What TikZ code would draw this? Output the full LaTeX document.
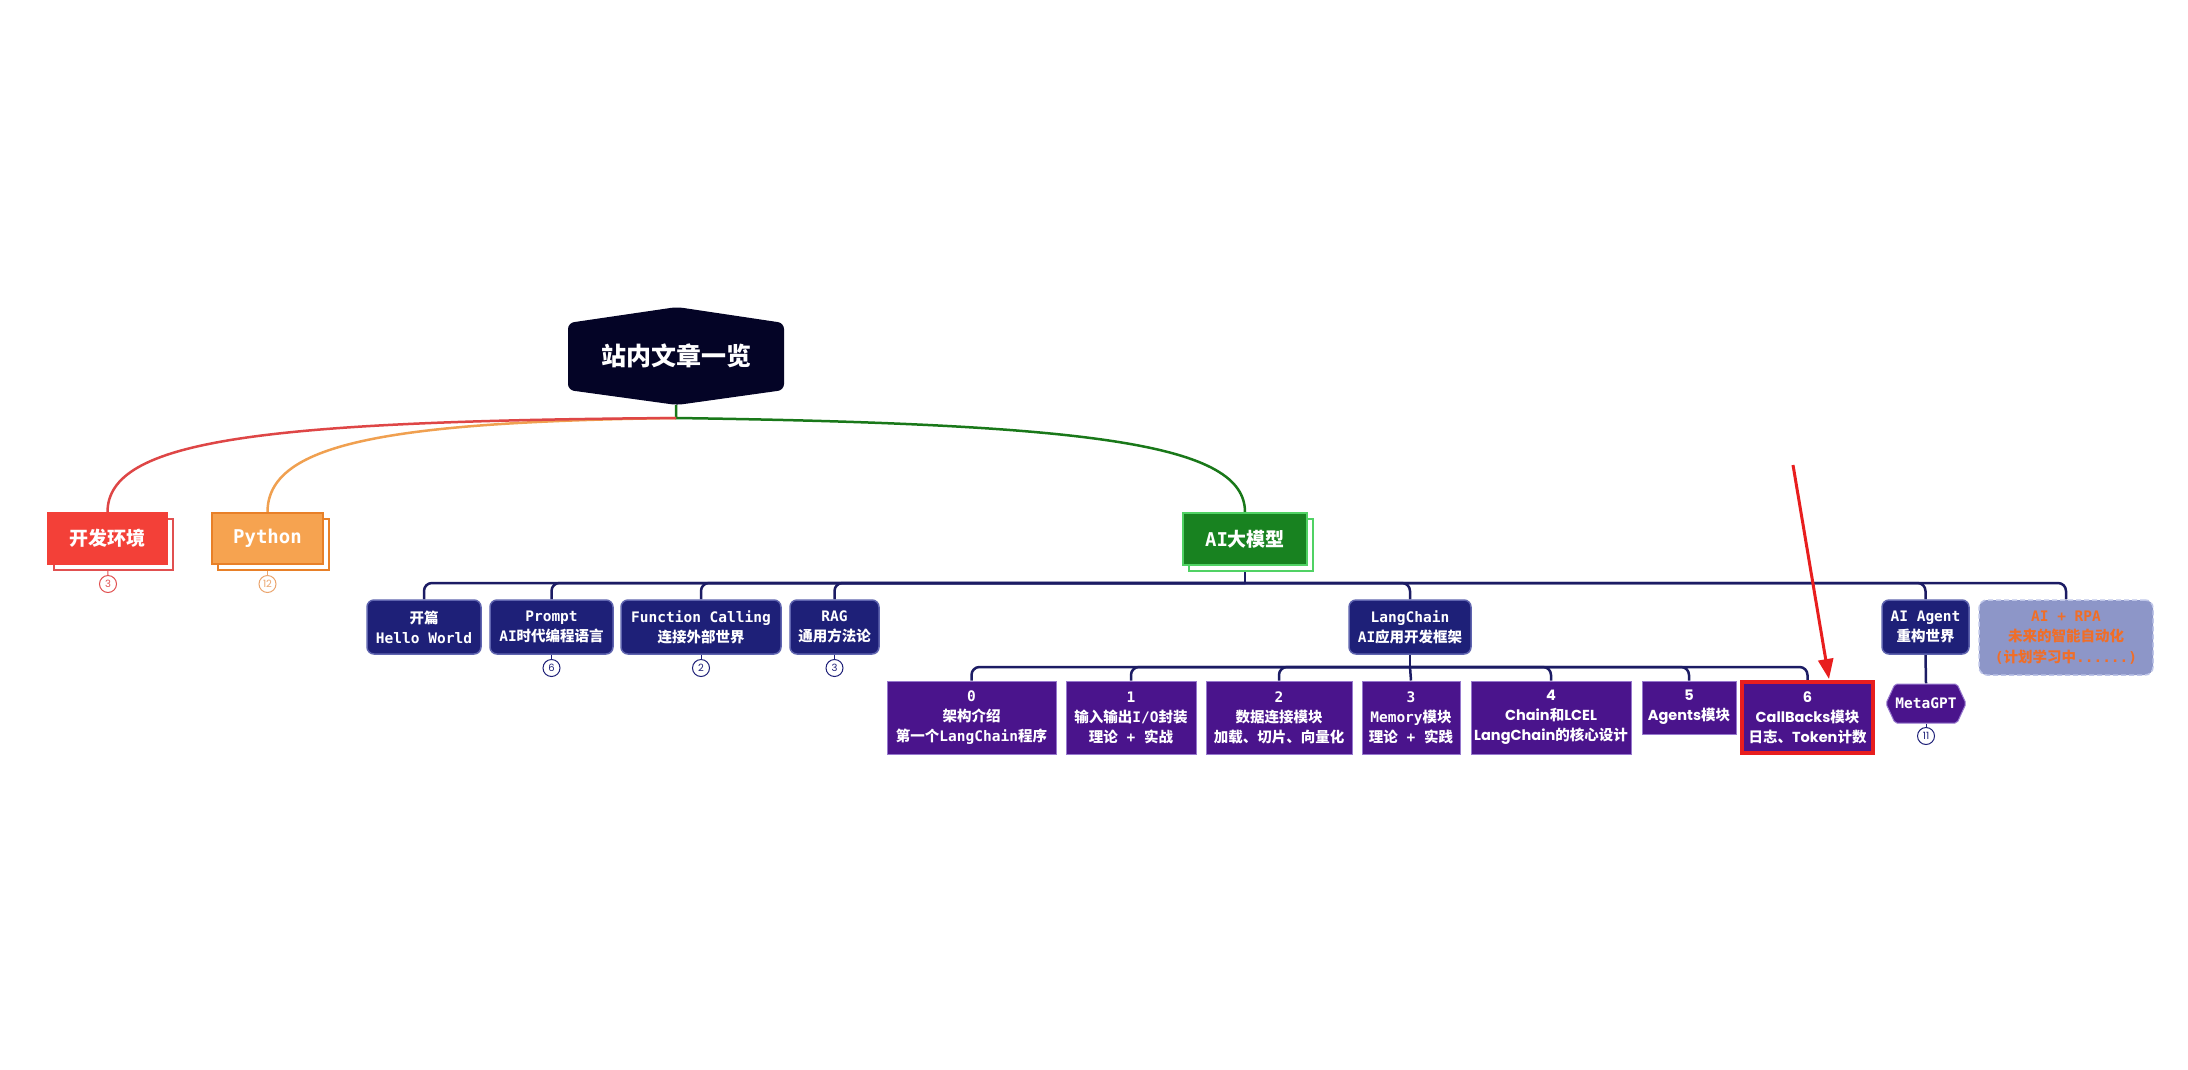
\documentclass[tikz,border=0pt]{standalone}
\usepackage{fontspec}
\setmainfont{DejaVu Sans Mono}
\newfontfamily\cjkf{Noto Sans CJK SC}
\newfontfamily\popf{Poppins}
\usetikzlibrary{arrows.meta,backgrounds,shadows,calc}
\newcommand\C[1]{{\cjkf\bfseries #1}}
\definecolor{rootc}{RGB}{4,4,38}
\definecolor{navy}{RGB}{30,32,120}
\definecolor{navyb}{RGB}{95,100,175}
\definecolor{purp}{RGB}{74,20,140}
\definecolor{purpb}{RGB}{150,120,205}
\definecolor{busc}{RGB}{28,28,100}
\definecolor{devred}{RGB}{243,64,56}
\definecolor{devc}{RGB}{225,80,80}
\definecolor{pyor}{RGB}{246,163,80}
\definecolor{pyorb}{RGB}{232,128,40}
\definecolor{pyc}{RGB}{235,165,110}
\definecolor{aig}{RGB}{24,130,32}
\definecolor{aigb}{RGB}{80,210,100}
\definecolor{rpaf}{RGB}{141,150,200}
\definecolor{rpab}{RGB}{190,197,232}
\definecolor{rpat}{RGB}{240,110,40}
\definecolor{arrowred}{RGB}{232,30,30}
\definecolor{greenline}{RGB}{25,120,25}
\definecolor{redline}{RGB}{222,70,70}
\definecolor{orline}{RGB}{240,160,80}
\tikzset{
 every node/.style={inner sep=0pt, align=center, text=white},
 l1/.style n args={3}{fill=#1, draw=#2, line width=1.5pt, minimum height=51pt,
   font=\bfseries\fontsize{19}{22}\selectfont,
   copy shadow={shadow xshift=6pt, shadow yshift=-6pt, opacity=1, fill=white, draw=#3, line width=1.5pt}},
 lvl2/.style={fill=navy, draw=navyb, line width=1.5pt, rounded corners=7pt, minimum height=54pt,
   font=\bfseries\fontsize{14.5}{20}\selectfont},
 lcbox/.style={fill=purp, draw=purpb, line width=1pt, minimum height=73pt,
   font=\bfseries\fontsize{14.5}{20}\selectfont},
 popbox/.style={lcbox, font=\popf\bfseries\fontsize{14.5}{20}\selectfont},
 rpabox/.style={fill=rpaf, draw=rpab, line width=1.5pt, dash pattern=on 5pt off 3pt, rounded corners=8pt,
   text=rpat, font=\bfseries\fontsize{14.5}{20.5}\selectfont},
 cnt/.style={circle, draw=#1, text=#1, fill=white, line width=1pt, minimum size=17pt,
   font=\popf\fontsize{10}{10}\selectfont},
 bus/.style={draw=busc, line width=2.5pt, rounded corners=8pt},
 tick/.style={draw=#1, line width=1pt},
}
\begin{document}
\begin{tikzpicture}[x=1pt,y=-1pt]
\useasboundingbox (0,0) rectangle (2188,1069);

% ---------- nodes ----------
\node[font=\cjkf\bfseries\fontsize{25}{25}\selectfont, minimum width=216pt, minimum height=98pt] (root) at (676,356) {站内文章一览};

\node[l1={devred}{devred}{devc}, minimum width=119pt] (dev) at (107.5,538.5) {\C{开发环境}};
\node[l1={pyor}{pyorb}{pyorb}, minimum width=111pt] (py) at (267.5,538.5) {Python};
\node[l1={aig}{aigb}{aigb}, minimum width=124pt, minimum height=52pt] (ai) at (1245,539) {AI\C{大模型}};

\node[cnt=devc] (devn) at (108,584) {3};
\node[cnt=pyc] (pyn) at (267.5,584) {12};

\node[lvl2, minimum width=114pt] (kp) at (424,627) {\C{开篇}\\Hello World};
\node[lvl2, minimum width=123pt] (prompt) at (551.5,627) {Prompt\\AI\C{时代编程语言}};
\node[lvl2, minimum width=160pt] (fc) at (701,627) {Function Calling\\\C{连接外部世界}};
\node[lvl2, minimum width=89pt] (rag) at (834.5,627) {RAG\\\C{通用方法论}};
\node[lvl2, minimum width=122pt] (lc) at (1410,627) {LangChain\\AI\C{应用开发框架}};
\node[lvl2, minimum width=87pt] (agent) at (1925.5,627) {AI Agent\\\C{重构世界}};
\node[rpabox, minimum width=174pt, minimum height=75pt] (rpa) at (2066,637.5) {AI + RPA\\\C{未来的智能自动化}\\(\C{计划学习中}......)};

\node[cnt=navy] (promptn) at (551.5,668) {6};
\node[cnt=navy] (fcn) at (701,668) {2};
\node[cnt=navy] (ragn) at (834.5,668) {3};

\node[lcbox, minimum width=169pt] (c0) at (971.5,717.5) {0\\\C{架构介绍}\\\C{第一个}LangChain\C{程序}};
\node[lcbox, minimum width=130pt] (c1) at (1131,717.5) {1\\\C{输入输出}I/O\C{封装}\\\C{理论} + \C{实战}};
\node[lcbox, minimum width=146pt] (c2) at (1279,717.5) {2\\\C{数据连接模块}\\\C{加载、切片、向量化}};
\node[lcbox, minimum width=98pt] (c3) at (1411,717.5) {3\\Memory\C{模块}\\\C{理论} + \C{实践}};
\node[popbox, minimum width=160pt] (c4) at (1551,717.5) {4\\Chain\C{和}LCEL\\LangChain\C{的核心设计}};
\node[popbox, minimum width=94pt, minimum height=53pt] (c5) at (1689,707.5) {5\\Agents\C{模块}};
\node[popbox, minimum width=131pt, minimum height=71pt, draw=arrowred, line width=4pt] (c6) at (1807.5,717.5) {6\\CallBacks\C{模块}\\\C{日志、}Token\C{计数}};

\node[font=\bfseries\fontsize{14.5}{16}\selectfont, minimum width=80pt, minimum height=40pt] (meta) at (1926,703.5) {MetaGPT};
\node[cnt=navy] (metan) at (1926,736) {11};

% ---------- coordinates ----------
\coordinate (rb) at (676,418);
\coordinate (aib) at (1245,583);
\coordinate (lcb) at (1410,667);
\coordinate (arrtail) at (1793,465);
\coordinate (arrtip) at (1829,679);

% ---------- background: shapes and connectors ----------
\begin{scope}[on background layer]
\fill[white] (0,0) rectangle (2188,1069);
\fill[rootc, rounded corners=6pt] (568,323) -- (677,307) -- (784,323) -- (784,390) -- (677,405) -- (568,390) -- cycle;
\filldraw[fill=purp, draw=purpb, line width=1pt, rounded corners=2pt] (1886,703.5) -- (1895,684) -- (1957,684) -- (1966,703.5) -- (1957,723) -- (1895,723) -- cycle;

\draw[greenline, line width=2.5pt] (root.south) -- (rb) .. controls (1100,424) and (1245,445) .. (ai.north);
\draw[orline, line width=2.5pt] (rb) .. controls (380,422) and (267.5,445) .. (py.north);
\draw[redline, line width=2.5pt] (rb) .. controls (260,421) and (107.5,440) .. (dev.north);

\draw[tick=devc] (dev.south) -- (devn.north);
\draw[tick=pyc] (py.south) -- (pyn.north);
\draw[tick=navy] (prompt.south) -- (promptn.north);
\draw[tick=navy] (fc.south) -- (fcn.north);
\draw[tick=navy] (rag.south) -- (ragn.north);
\draw[tick=navy] (meta.south) -- (metan.north);

\draw[bus] (ai.south) -- (aib);
\draw[bus] (aib) -| (kp.north);
\draw[bus] (aib) -| (prompt.north);
\draw[bus] (aib) -| (fc.north);
\draw[bus] (aib) -| (rag.north);
\draw[bus] (aib) -| (lc.north);
\draw[bus] (aib) -| (agent.north);
\draw[bus] (aib) -| (rpa.north);

\draw[bus] (lc.south) -- (lcb);
\draw[bus] (lcb) -| (c0.north);
\draw[bus] (lcb) -| (c1.north);
\draw[bus] (lcb) -| (c2.north);
\draw[bus] (lcb) -- (c3.north);
\draw[bus] (lcb) -| (c4.north);
\draw[bus] (lcb) -| (c5.north);
\draw[bus] (lcb) -| (c6.north);

\draw[bus] (agent.south) -- (meta.north);
\end{scope}

% ---------- red arrow ----------
\draw[arrowred, line width=3pt, -{Triangle[length=20pt,width=15pt]}] (arrtail) -- (arrtip);
\end{tikzpicture}
\end{document}
